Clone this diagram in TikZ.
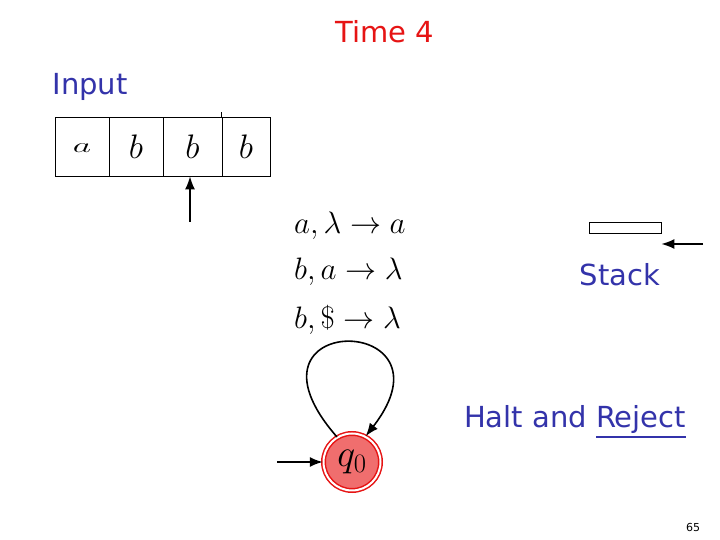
\RequirePackage{fix-cm}
\documentclass[tikz,border=0pt]{standalone}
\usepackage{amsmath, amssymb}
\usepackage{fontspec}
\setsansfont{DejaVu Sans}
\usepackage{tikz}
\usetikzlibrary{shapes, arrows, arrows.meta, positioning, calc}
\definecolor{slideblue}{RGB}{51,51,170}
\definecolor{slidered}{RGB}{230,20,20}
\definecolor{statefill}{RGB}{240,110,110}
\newcommand{\thickul}[1]{\leavevmode\vtop{\hbox{#1}\kern2pt\hrule height 2pt}}

\begin{document}
\begin{tikzpicture}[x=1pt, y=1pt,
    title/.style={font=\sffamily\fontsize{29}{32}\selectfont},
    cell/.style={draw, line width=0.8pt, minimum height=59pt, inner sep=0pt, text depth=0pt, font=\fontsize{34}{36}\selectfont},
    trans/.style={anchor=west, inner sep=0pt, font=\fontsize{31}{34}\selectfont},
    state/.style={circle, draw=slidered, line width=1.5pt, double=white, double distance=2pt, fill=statefill, minimum size=57pt, inner sep=0pt, font=\fontsize{38}{40}\selectfont},
    arr/.style={-{Latex[length=13pt,width=10pt]}, line width=1.6pt}]
      \useasboundingbox (0,0) rectangle (720,540);

      \node[title, slidered] (time) at (385,508) {Time 4};
      \node[title, slideblue] (input) at (90,453) {Input};

      % input tape
      \node[cell, minimum width=54pt] (c1) at (82,393.5) {\raisebox{-4pt}{\scalebox{1.05}[0.6]{$a$}}};
      \node[cell, minimum width=54pt] (c2) at (136,393.5) {$b$};
      \node[cell, minimum width=59pt] (c3) at (192.5,393.5) {$b$};
      \node[cell, minimum width=48pt] (c4) at (246,393.5) {$b$};
      \draw[line width=0.8pt] (c4.north west) -- ++(0,5);

      \coordinate (head) at (190,318);
      \draw[arr] (head) -- (head |- c3.south);

      % transitions
      \node[trans] (t1) at (294,314) {$a,\lambda\rightarrow a$};
      \node[trans] (t2) at (294,268) {$b,a\rightarrow \lambda$};
      \node[trans] (t3) at (294,220) {$b,\$\rightarrow \lambda$};

      % state
      \node[state] (q0) at (352,78) {$q_0$};
      \coordinate (init) at (277,78);
      \draw[arr] (init) -- (q0.west);
      \draw[arr] (q0.121) .. controls (226,230) and (462,228) .. (q0.62);

      % stack
      \node[draw, line width=0.8pt, minimum width=72pt, minimum height=11pt, inner sep=0pt] (stack) at (625,312.5) {};
      \coordinate (top) at (703,296);
      \draw[arr] (top) -- (top -| stack.east);
      \node[title, slideblue] (stacklbl) at (620,265) {Stack};

      \node[title, slideblue] (halt) at (575,118) {Halt and \thickul{Reject}};

      \node[font=\sffamily\fontsize{11}{12}\selectfont] (page) at (693,13) {65};
    \end{tikzpicture}
\end{document}
